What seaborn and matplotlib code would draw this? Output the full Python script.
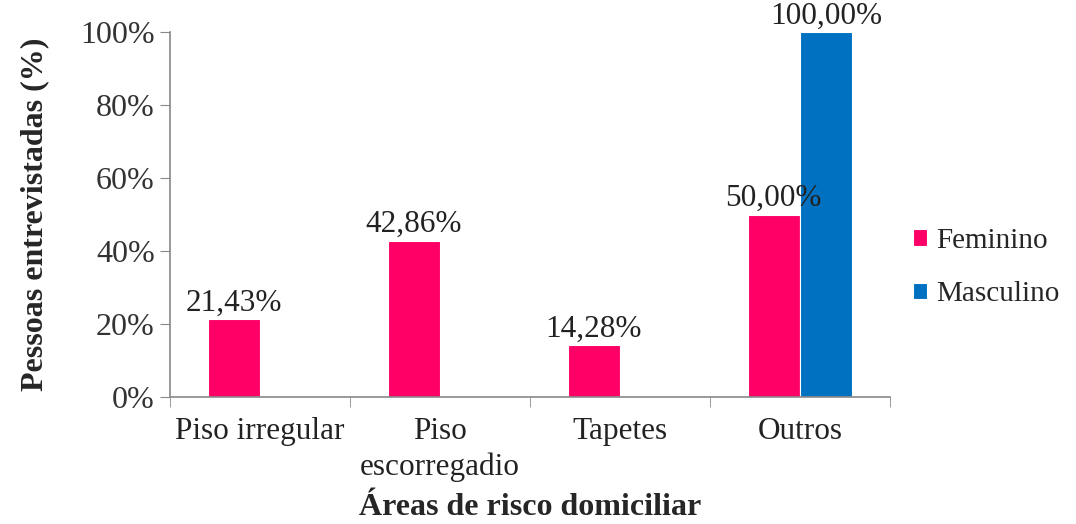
import numpy as np
import pandas as pd
import seaborn as sns
import matplotlib.pyplot as plt
from matplotlib.ticker import FixedLocator

categories = ['Piso irregular', 'Piso\nescorregadio', 'Tapetes', 'Outros']
feminino = [21.43, 42.86, 14.28, 50.00]
masculino = [0, 0, 0, 100.00]
series = ['Feminino', 'Masculino']
colors = ['#FF0066', '#0070C0']

df = pd.DataFrame({
    'cat': categories * 2,
    'val': feminino + masculino,
    'sexo': ['Feminino'] * 4 + ['Masculino'] * 4,
})

sns.set_style('white')
plt.rcParams['font.family'] = ['Liberation Serif', 'DejaVu Serif']

fig = plt.figure(figsize=(10.76, 5.24), dpi=100)
ax = fig.add_axes([0.158, 0.242, 0.669, 0.697])

sns.barplot(data=df, x='cat', y='val', hue='sexo', palette=colors, width=0.58,
            saturation=1, ax=ax, errorbar=None, edgecolor='white', linewidth=0.8)

# only label the bars that have a value
for cont in ax.containers:
    labs = [f'{v:.2f}%'.replace('.', ',') if v > 0 else '' for v in cont.datavalues]
    ax.bar_label(cont, labels=labs, fontsize=22.5, padding=1, color='#222222')

ax.set_ylim(0, 100)
ax.set_xlim(-0.5, 3.5)
ax.set_yticks(np.arange(0, 101, 20))
ax.set_yticklabels([f'{v}%' for v in range(0, 101, 20)], fontsize=23, color='#333333')
ax.tick_params(axis='x', which='major', length=0, labelsize=22.5, labelcolor='#222222', pad=14)
ax.xaxis.set_minor_locator(FixedLocator([-0.5, 0.5, 1.5, 2.5, 3.5]))
ax.tick_params(axis='x', which='minor', length=7, color='#888888', bottom=True)
ax.tick_params(axis='y', length=7, color='#888888', left=True, pad=4)
for lab in ax.get_xticklabels():
    lab.set_linespacing(1.3)

for s in ['top', 'right']:
    ax.spines[s].set_visible(False)
for s in ['left', 'bottom']:
    ax.spines[s].set_color('#888888')
    ax.spines[s].set_linewidth(1.2)

ax.set_xlabel('Áreas de risco domiciliar', fontsize=23, fontweight='bold', labelpad=8)
ax.set_ylabel('Pessoas entrevistadas (%)', fontsize=23, fontweight='bold', labelpad=22)

ax.legend(loc='center left', bbox_to_anchor=(0.995, 0.355), frameon=False, fontsize=21,
          handlelength=0.5, handleheight=0.5, handletextpad=0.3, labelspacing=0.95)

fig.savefig('out.png', dpi=100)
